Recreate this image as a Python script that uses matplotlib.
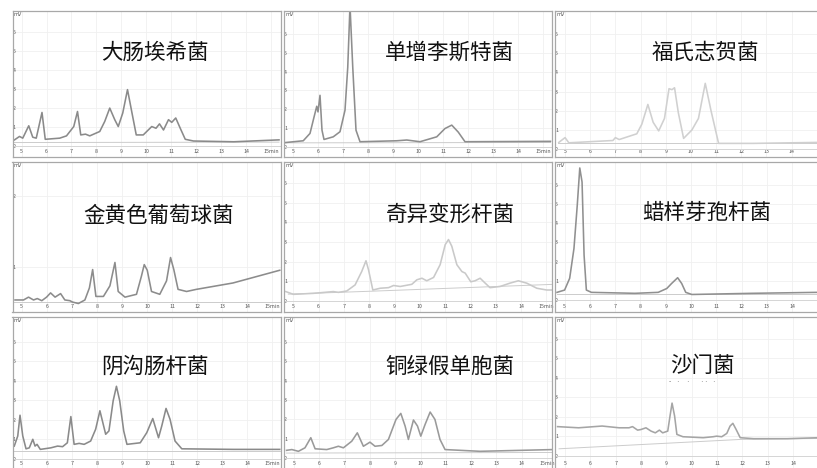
import numpy as np
import matplotlib
matplotlib.use('Agg')
import matplotlib.pyplot as plt

plt.rcParams['font.family'] = ['Noto Sans CJK SC', 'DejaVu Sans']

# ---- 数据（从图中读取的色谱曲线点：时间 min, 信号 mV） ----
names = ['大肠埃希菌', '单增李斯特菌', '福氏志贺菌',
         '金黄色葡萄球菌', '奇异变形杆菌', '蜡样芽孢杆菌',
         '阴沟肠杆菌', '铜绿假单胞菌', '沙门菌']

ecoli_t = [4.72, 4.92, 5.05, 5.29, 5.45, 5.59, 5.82, 5.95, 6.53, 6.8, 7.09, 7.24, 7.37,
           7.56, 7.73, 8.13, 8.33, 8.53, 8.73, 8.87, 9.05, 9.24, 9.42, 9.59, 9.87, 10.21,
           10.38, 10.52, 10.68, 10.88, 11.01, 11.17, 11.35, 11.55, 11.88, 13.49, 15.3]
ecoli_mv = [0.32, 0.5, 0.41, 1.06, 0.46, 0.41, 1.76, 0.35, 0.41, 0.53, 1.02, 1.81, 0.58,
            0.62, 0.53, 0.76, 1.29, 1.99, 1.38, 1.02, 1.73, 2.96, 1.73, 0.58, 0.58, 1.02,
            0.93, 1.16, 0.84, 1.38, 1.24, 1.47, 0.93, 0.35, 0.26, 0.22, 0.32]

listeria_t = [4.65, 5.41, 5.68, 5.84, 5.95, 6.0, 6.08, 6.16, 6.24, 6.61, 6.88, 7.08, 7.19,
              7.28, 7.39, 7.52, 7.68, 9.15, 9.55, 10.08, 10.75, 11.08, 11.35, 11.61, 11.88, 15.3]
listeria_mv = [0.23, 0.33, 0.72, 1.58, 2.16, 1.86, 2.74, 0.89, 0.4, 0.54, 0.81, 1.95, 4.23,
               7.5, 4.23, 0.89, 0.28, 0.33, 0.37, 0.28, 0.54, 0.98, 1.16, 0.79, 0.28, 0.3]

shigella_t = [4.75, 5.0, 5.15, 6.9, 7.0, 7.15, 7.85, 8.05, 8.29, 8.5, 8.72, 8.95, 9.13,
              9.25, 9.35, 9.5, 9.71, 10.04, 10.3, 10.57, 10.8, 11.1, 12.5, 15.0]
shigella_mv = [0.35, 0.6, 0.33, 0.45, 0.6, 0.5, 0.8, 1.3, 2.33, 1.4, 0.95, 1.6, 3.15,
               3.1, 3.2, 1.9, 0.56, 1.0, 1.6, 3.43, 2.0, 0.3, 0.3, 0.35]

saureus_t = [4.73, 5.07, 5.27, 5.47, 5.62, 5.8, 5.99, 6.15, 6.33, 6.55, 6.72, 6.92, 7.03,
             7.26, 7.52, 7.7, 7.83, 7.96, 8.26, 8.52, 8.72, 8.85, 9.12, 9.58, 9.78, 9.89,
             10.01, 10.18, 10.51, 10.78, 10.94, 11.07, 11.24, 11.58, 11.97, 13.43, 15.3]
saureus_mv = [0.53, 0.53, 0.57, 0.53, 0.55, 0.52, 0.57, 0.63, 0.57, 0.62, 0.53, 0.52, 0.5,
              0.48, 0.53, 0.7, 0.96, 0.58, 0.58, 0.73, 1.06, 0.65, 0.57, 0.61, 0.87, 1.03,
              0.95, 0.65, 0.61, 0.8, 1.13, 0.96, 0.68, 0.65, 0.68, 0.77, 0.95]

proteus_t = [4.7, 5.0, 5.79, 6.58, 6.78, 7.11, 7.44, 7.7, 7.87, 7.97, 8.14, 8.43, 8.76,
             8.96, 9.22, 9.68, 9.88, 10.08, 10.27, 10.54, 10.8, 11.0, 11.13, 11.26, 11.46,
             11.66, 11.79, 12.01, 12.18, 12.38, 12.58, 12.77, 13.17, 13.56, 13.89, 14.22,
             14.62, 15.01, 15.3]
proteus_mv = [0.48, 0.34, 0.39, 0.48, 0.44, 0.51, 0.82, 1.5, 2.05, 1.59, 0.56, 0.65, 0.68,
              0.79, 0.74, 0.85, 1.08, 1.16, 1.03, 1.2, 1.85, 2.87, 3.13, 2.79, 1.85, 1.5,
              1.42, 0.98, 1.03, 1.16, 0.91, 0.68, 0.74, 0.91, 1.03, 0.91, 0.65, 0.56, 0.56]

bcereus_t = [4.7, 5.0, 5.2, 5.37, 5.5, 5.6, 5.69, 5.77, 5.86, 6.06, 7.78, 8.7, 9.04, 9.23,
             9.47, 9.63, 9.79, 10.03, 12.41, 15.0]
bcereus_mv = [0.4, 0.52, 1.13, 2.68, 4.92, 6.86, 6.13, 2.33, 0.52, 0.4, 0.35, 0.4, 0.6,
              0.86, 1.16, 0.86, 0.4, 0.29, 0.35, 0.4]

cloacae_t = [4.7, 4.84, 4.93, 5.04, 5.17, 5.3, 5.44, 5.53, 5.61, 5.74, 6.16, 6.43, 6.63,
             6.82, 6.96, 7.09, 7.29, 7.49, 7.75, 7.95, 8.12, 8.35, 8.48, 8.65, 8.78, 8.91,
             9.07, 9.2, 9.73, 9.99, 10.23, 10.46, 10.59, 10.76, 10.92, 11.12, 11.39, 13.44, 15.3]
cloacae_mv = [0.64, 1.16, 2.23, 1.16, 0.5, 0.55, 0.99, 0.64, 0.73, 0.47, 0.55, 0.64, 0.61,
              0.81, 2.16, 0.73, 0.78, 0.73, 0.9, 1.51, 2.46, 1.25, 1.42, 2.98, 3.72, 2.98,
              1.42, 0.73, 0.81, 1.33, 2.06, 1.07, 1.68, 2.58, 2.02, 0.9, 0.5, 0.47, 0.47]

aerug_t = [4.7, 4.91, 5.17, 5.43, 5.66, 5.83, 6.29, 6.55, 6.75, 6.95, 7.28, 7.5, 7.74, 8.0,
           8.2, 8.47, 8.73, 9.03, 9.22, 9.39, 9.52, 9.72, 9.88, 10.01, 10.18, 10.38, 10.57,
           10.77, 10.97, 12.35, 15.25]
aerug_mv = [0.41, 0.45, 0.36, 0.54, 1.06, 0.49, 0.45, 0.54, 0.62, 0.54, 0.88, 1.31, 0.62,
            0.83, 0.62, 0.66, 0.97, 2.0, 2.31, 1.66, 0.97, 1.97, 1.66, 1.14, 1.74, 2.38, 2.0,
            0.97, 0.45, 0.36, 0.45]

salmon_t = [4.7, 5.53, 6.46, 7.13, 7.52, 7.66, 7.86, 7.99, 8.19, 8.39, 8.56, 8.72, 8.85,
            9.05, 9.14, 9.22, 9.32, 9.41, 9.65, 10.45, 10.84, 10.98, 11.18, 11.38, 11.51,
            11.62, 11.75, 11.91, 12.44, 13.77, 15.0]
salmon_mv = [1.49, 1.43, 1.52, 1.43, 1.43, 1.49, 1.31, 1.34, 1.43, 1.26, 1.17, 1.31, 1.17,
             1.26, 2.04, 2.7, 2.04, 1.09, 0.97, 0.92, 0.97, 1.0, 0.97, 1.14, 1.52, 1.66, 1.34,
             0.92, 0.87, 0.87, 0.92]

# 积分基线
base_t = [[4.7, 15.3], [4.65, 15.3], [4.7, 15.0],
          [4.7, 15.3], [4.8, 8.1, 15.3], [4.7, 15.0],
          [4.7, 15.3], [4.7, 15.3], [4.76, 11.9, 15.0]]
base_mv = [[0.18, 0.2], [0.22, 0.24], [0.3, 0.3],
           [0.5, 0.5], [0.35, 0.5, 0.85], [0.3, 0.3],
           [0.38, 0.38], [0.27, 0.3], [0.35, 0.83, 0.88]]

traces_t = [ecoli_t, listeria_t, shigella_t, saureus_t, proteus_t, bcereus_t,
            cloacae_t, aerug_t, salmon_t]
traces_mv = [ecoli_mv, listeria_mv, shigella_mv, saureus_mv, proteus_mv, bcereus_mv,
             cloacae_mv, aerug_mv, salmon_mv]

xtick_vals = list(range(5, 16))
xtick_labels = [str(v) for v in range(5, 15)] + ['15min']

# ---- 版式 ----
W, H = 817, 468
col_px = [(12.5, 281.5), (284, 552), (555, 818)]
row_px = [(11, 157), (162, 312), (317, 469)]
xlims = [(4.64, 15.4), (4.64, 15.36), (4.6, 15.05),
         (4.63, 15.37), (4.63, 15.22), (4.62, 15.02),
         (4.63, 15.37), (4.6, 15.2), (4.6, 14.98)]
ylims = [(-0.58, 7.09), (-0.53, 7.21), (-0.41, 7.2),
         (0.36, 2.48), (-0.56, 7.08), (-0.62, 7.17),
         (-0.54, 7.29), (-0.55, 7.27), (-0.69, 7.13)]
line_colors = ['#8a8a8a', '#8e8e8e', '#d0d0d0', '#8c8c8c', '#c9c9c9', '#909090',
               '#8a8a8a', '#9a9a9a', '#a5a5a5']
title_pos = [(155, 53), (449, 53), (705, 53),
             (159, 216), (450, 215), (707, 213),
             (155, 367), (450, 367), (702, 366)]

fig = plt.figure(figsize=(W / 100, H / 100), dpi=100)
fig.patch.set_facecolor('white')

for i in range(9):
    r, c = divmod(i, 3)
    L, R = col_px[c]
    T, B = row_px[r]
    ax = fig.add_axes([L / W, 1 - B / H, (R - L) / W, (B - T) / H])
    ax.set_xlim(*xlims[i])
    ax.set_ylim(*ylims[i])
    if c == 2:
        # 右列最后一个刻度在原图中被裁掉
        ax.set_xticks(xtick_vals[:-1])
        ax.set_xticklabels(xtick_labels[:-1])
    else:
        ax.set_xticks(xtick_vals)
        ax.set_xticklabels(xtick_labels)
    lo, hi = ylims[i]
    ax.set_yticks([v for v in range(0, 7) if lo < v < hi - 0.2])
    ax.grid(color='#f0f0f0', lw=0.6)
    ax.set_axisbelow(True)
    ax.tick_params(axis='x', length=0, pad=-5.5, labelsize=3.8, labelcolor='#555555')
    ax.tick_params(axis='y', length=0, pad=-2.2, labelsize=3.8, labelcolor='#555555')
    for s in ax.spines.values():
        s.set_color('#a8a8a8')
        s.set_linewidth(0.9)
    if i != 3:
        ax.axhline(0, color='#d6d6d6', lw=0.7)
    ax.plot(base_t[i], base_mv[i], color='#cccccc', lw=0.7)
    ax.plot(traces_t[i], traces_mv[i], color=line_colors[i], lw=1.15,
            solid_joinstyle='round', clip_on=True)
    ax.text(0.004, 0.992, 'mV', transform=ax.transAxes, ha='left', va='top',
            fontsize=3.6, color='#555555', family='DejaVu Sans')

for i, (px, py) in enumerate(title_pos):
    fig.text(px / W, 1 - py / H, names[i], ha='center', va='center',
             fontsize=15.5, color='#111111')

fig.text(692 / W, 1 - 381.5 / H, '-   ·    ·      · ·   ·', ha='center', va='center',
         fontsize=4.5, color='#444444', family='DejaVu Sans')

fig.savefig('out.png', dpi=100, facecolor='white')
